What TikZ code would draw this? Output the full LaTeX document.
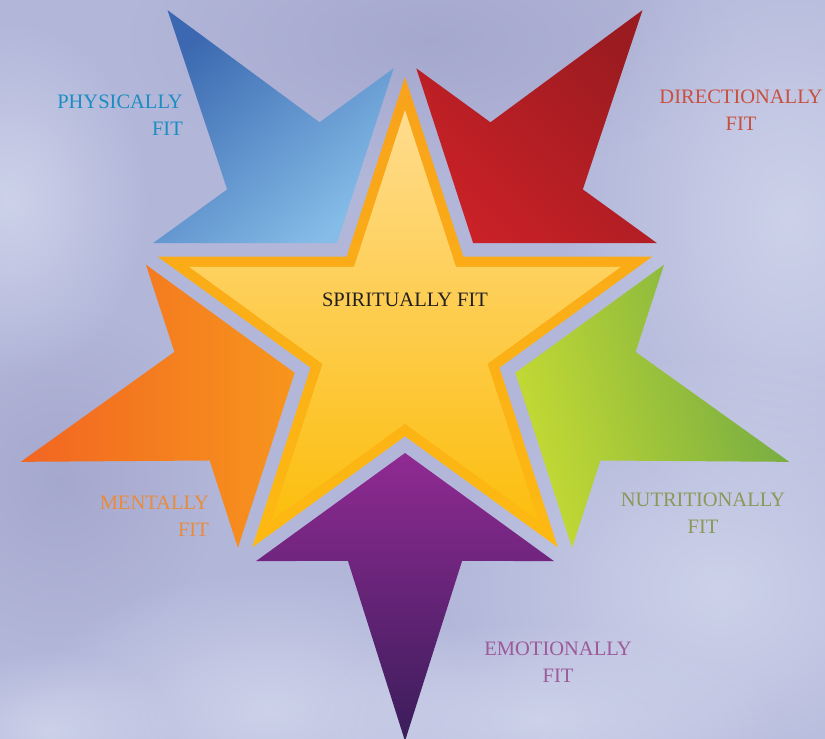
\documentclass[tikz,border=0pt]{standalone}
\usepackage{fontspec}
\setmainfont{Liberation Serif}
\newfontfamily\lblfont{Liberation Serif}
\usetikzlibrary{fadings}
\definecolor{bgbase}{HTML}{B2B6D9}
\definecolor{bglight}{HTML}{D0D5EC}
\definecolor{bgdark}{HTML}{A4A7CC}
\definecolor{blueD}{HTML}{3B68B0}
\definecolor{blueL}{HTML}{85BDE8}
\definecolor{redD}{HTML}{9A1B20}
\definecolor{redL}{HTML}{C92127}
\definecolor{grnL}{HTML}{C6DB33}
\definecolor{grnD}{HTML}{72AA43}
\definecolor{orgL}{HTML}{F26522}
\definecolor{orgR}{HTML}{F7951D}
\definecolor{purT}{HTML}{902A93}
\definecolor{purB}{HTML}{3A1D5A}
\definecolor{starB1}{HTML}{F8A21B}
\definecolor{starB2}{HTML}{FDBA12}
\definecolor{starT}{HTML}{FFDC8F}
\definecolor{starM}{HTML}{FDC545}
\definecolor{starBot}{HTML}{FCBE0E}
\definecolor{txtPhys}{HTML}{1B8DC2}
\definecolor{txtDir}{HTML}{C9503F}
\definecolor{txtMent}{HTML}{E98B3A}
\definecolor{txtNut}{HTML}{8B9857}
\definecolor{txtEmo}{HTML}{9C5A99}
\definecolor{txtSpi}{HTML}{231F20}
\tikzfading[name=fuzzyblob, inner color=transparent!0, outer color=transparent!100]
\tikzset{
  lbl/.style={font=\lblfont\fontsize{20.5}{27}\selectfont, inner sep=0pt},
  cloud/.style={path fading=fuzzyblob, fill opacity=0.9},
}
\begin{document}
\begin{tikzpicture}[x=1pt,y=1pt]
\useasboundingbox (0,0) rectangle (825,-739);
% background sky
\fill[bgbase] (0,0) rectangle (825,-739);
\fill[bgdark, cloud] (430,-40) ellipse (300 and 140);
\fill[bgdark, cloud] (60,-480) ellipse (160 and 170);
\fill[bglight, cloud] (790,-220) ellipse (230 and 320);
\fill[bglight, cloud] (720,-590) ellipse (280 and 240);
\fill[bglight, cloud] (10,-200) ellipse (140 and 180);
\fill[bglight, cloud] (270,-710) ellipse (240 and 140);
\fill[bglight, cloud] (540,-720) ellipse (240 and 100);
\fill[bglight, cloud] (50,-730) ellipse (130 and 80);

\begin{scope}[shift={(405,-337)}]
  % purple (bottom)
  \shade[top color=purT, bottom color=purB]
    (270:116) -- (-56.4:269) -- (-75.7:231.1) -- (270:404) -- (-104.3:231.1) -- (-123.6:269) -- cycle;
  % green (right)
  \shade[left color=grnL, right color=grnD, shading angle=105]
    (-18:116) -- (15.6:269) -- (-3.7:231.1) -- (-18:404) -- (-32.3:231.1) -- (-51.6:269) -- cycle;
  % red (upper right)
  \shade[top color=redD, bottom color=redL, shading angle=-45]
    (54:116) -- (87.6:269) -- (68.3:231.1) -- (54:404) -- (39.7:231.1) -- (20.4:269) -- cycle;
  % blue (upper left)
  \shade[top color=blueD, bottom color=blueL, shading angle=40]
    (126:116) -- (159.6:269) -- (140.3:231.1) -- (126:404) -- (111.7:231.1) -- (92.4:269) -- cycle;
  % orange (left)
  \shade[left color=orgL, right color=orgR]
    (198:116) -- (231.6:269) -- (212.3:231.1) -- (198:404) -- (183.7:231.1) -- (164.4:269) -- cycle;
  % central star: border
  \shade[top color=starB1, bottom color=starB2]
    (90:260) -- (126:99.3) -- (162:260) -- (198:99.3) -- (234:260) -- (270:99.3)
    -- (306:260) -- (342:99.3) -- (18:260) -- (54:99.3) -- cycle;
  % central star: inner (inset by about 10px)
  \shade[top color=starT, middle color=starM, bottom color=starBot]
    (90:227) -- (126:86.7) -- (162:227) -- (198:86.7) -- (234:227) -- (270:86.7)
    -- (306:227) -- (342:86.7) -- (18:227) -- (54:86.7) -- cycle;
\end{scope}

% labels
\node[lbl, text=txtSpi] (spi) at (405,-300) {SPIRITUALLY FIT};
\node[lbl, text=txtPhys, align=right, anchor=east] (phys) at (183,-115) {PHYSICALLY\\FIT};
\node[lbl, text=txtDir, align=center] (dir) at (741,-110.5) {DIRECTIONALLY\\FIT};
\node[lbl, text=txtMent, align=right, anchor=east] (ment) at (209,-516.5) {MENTALLY\\FIT};
\node[lbl, text=txtNut, align=center] (nut) at (703,-513.5) {NUTRITIONALLY\\FIT};
\node[lbl, text=txtEmo, align=center] (emo) at (558,-662) {EMOTIONALLY\\FIT};
\end{tikzpicture}
\end{document}
